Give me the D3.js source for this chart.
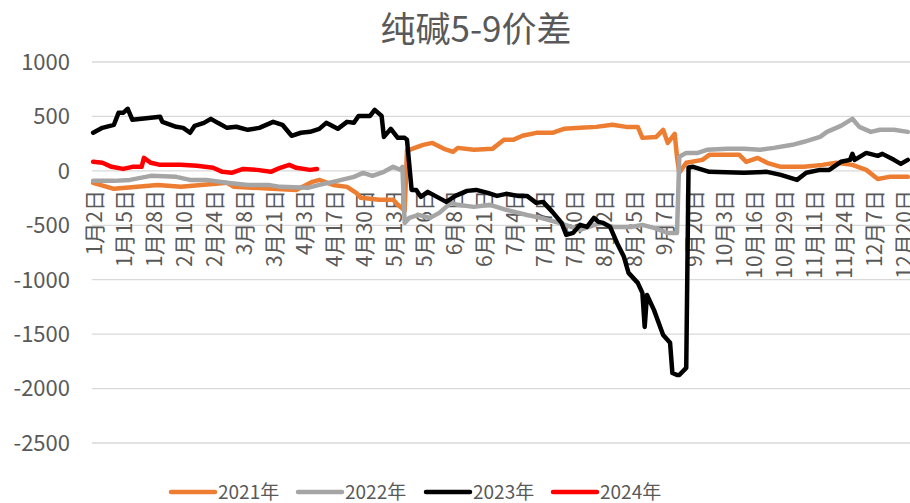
<!DOCTYPE html>
<html>
<head>
<meta charset="utf-8">
<script src="https://cdn.jsdelivr.net/npm/d3@7"></script>
<style>
  body { margin: 0; background: #fff; }
  text { font-family: "Noto Sans CJK SC", "Noto Sans", sans-serif; fill: #595959; }
</style>
</head>
<body>
<svg width="910" height="503"></svg>
<script>
// days that are not in the category list
var skipDays = ["1/1", "2/17", "4/5"];
var lastDay = "12/23";

var tickLabels = ["1月2日", "1月15日", "1月28日", "2月10日", "2月24日", "3月8日", "3月21日", "4月3日",
  "4月17日", "4月30日", "5月13日", "5月26日", "6月8日", "6月21日", "7月4日", "7月17日", "7月30日",
  "8月12日", "8月25日", "9月7日", "9月20日", "10月3日", "10月16日", "10月29日", "11月11日",
  "11月24日", "12月7日", "12月20日"];

var yTicks = [1000, 500, 0, -500, -1000, -1500, -2000, -2500];

var seriesNames = ["2021年", "2022年", "2023年", "2024年"];
var seriesColors = ["#ed7d31", "#a5a5a5", "#000000", "#ff0000"];

var s2021 = [["1/2",-110],["1/5",-129],["1/11",-165],["1/30",-129],["2/9",-147],["3/1",-110],["3/4",-147],
  ["3/31",-175],["4/8",-101],["4/11",-83],["4/17",-129],["4/23",-147],["4/27",-202],["4/29",-248],
  ["5/7",-266],["5/13",-266],["5/15",-312],["5/18",-365],["5/19",190],["5/20",193],["5/26",239],
  ["5/30",257],["6/4",202],["6/8",175],["6/10",211],["6/17",193],["6/25",202],["6/30",285],["7/4",285],
  ["7/8",322],["7/14",349],["7/21",349],["7/26",386],["8/2",395],["8/9",404],["8/16",423],["8/22",404],
  ["8/27",404],["8/29",303],["9/4",312],["9/7",377],["9/9",257],["9/12",340],["9/13",129],["9/14",-18],
  ["9/17",74],["9/24",101],["9/27",147],["10/10",147],["10/13",83],["10/18",119],["10/22",74],
  ["10/28",37],["11/7",37],["11/15",55],["11/21",74],["11/28",55],["12/4",9],["12/9",-74],
  ["12/14",-55],["12/22",-55]];

var s2022 = [["1/2",-92],["1/11",-92],["1/18",-83],["1/27",-46],["2/7",-55],["2/13",-83],["2/21",-83],
  ["3/1",-110],["3/10",-129],["3/19",-129],["3/24",-147],["4/6",-156],["4/11",-129],["4/17",-101],
  ["4/26",-55],["4/30",-18],["5/4",-46],["5/9",-9],["5/13",37],["5/16",10],["5/17",37],["5/18",-478],
  ["5/20",-432],["5/24",-405],["5/29",-432],["6/2",-386],["6/7",-294],["6/10",-312],["6/17",-331],
  ["6/24",-312],["7/1",-358],["7/10",-405],["7/16",-432],["7/24",-478],["8/2",-542],["8/11",-478],
  ["8/16",-515],["8/24",-515],["8/29",-496],["9/3",-524],["9/9",-570],["9/13",-570],["9/14",129],
  ["9/17",165],["9/22",165],["9/26",193],["10/5",202],["10/12",202],["10/19",193],["10/25",211],
  ["11/2",239],["11/7",267],["11/14",312],["11/17",358],["11/23",413],["11/28",478],["12/1",404],
  ["12/6",358],["12/10",377],["12/16",377],["12/22",358]];

var s2023 = [["1/2",350],["1/6",395],["1/11",423],["1/13",533],["1/15",533],["1/17",570],["1/19",469],
  ["1/31",497],["2/1",450],["2/7",405],["2/10",395],["2/13",350],["2/15",414],["2/20",441],["2/23",478],
  ["2/26",441],["3/1",395],["3/5",405],["3/10",377],["3/15",395],["3/21",450],["3/25",423],["3/29",322],
  ["4/2",350],["4/7",359],["4/11",386],["4/14",441],["4/19",386],["4/23",450],["4/26",441],["4/28",505],
  ["5/3",505],["5/5",560],["5/8",505],["5/9",312],["5/12",386],["5/15",303],["5/18",303],["5/19",285],
  ["5/21",-175],["5/23",-175],["5/25",-239],["5/28",-193],["6/1",-239],["6/5",-285],["6/9",-230],
  ["6/14",-184],["6/18",-175],["6/23",-202],["6/27",-230],["7/1",-211],["7/6",-230],["7/10",-230],
  ["7/14",-294],["7/17",-285],["7/21",-377],["7/25",-478],["7/27",-588],["7/30",-570],["8/2",-496],
  ["8/5",-515],["8/8",-432],["8/10",-469],["8/12",-478],["8/15",-515],["8/18",-662],["8/21",-790],
  ["8/23",-937],["8/27",-1029],["8/29",-1121],["8/30",-1434],["8/31",-1140],["9/3",-1277],["9/7",-1507],
  ["9/10",-1580],["9/11",-1857],["9/13",-1875],["9/14",-1875],["9/17",-1810],["9/18",30],["9/20",37],
  ["9/27",-9],["10/12",-18],["10/22",-9],["10/28",-37],["11/4",-83],["11/8",-18],["11/14",9],
  ["11/18",9],["11/23",83],["11/27",101],["11/28",156],["11/29",101],["12/4",165],["12/9",138],
  ["12/11",156],["12/16",101],["12/19",64],["12/22",101]];

var s2024 = [["1/2",83],["1/6",74],["1/10",37],["1/15",18],["1/19",37],["1/23",37],["1/24",119],
  ["1/27",74],["1/31",55],["2/9",55],["2/16",46],["2/24",28],["2/28",-9],["3/3",-18],["3/8",18],
  ["3/14",9],["3/20",-9],["3/24",28],["3/28",55],["3/31",28],["4/7",9],["4/10",18]];

var allSeries = [s2021, s2022, s2023, s2024];

// category list: calendar days of a leap year
var categories = [];
for (var d = new Date(2024, 0, 1); ; d.setDate(d.getDate() + 1)) {
  var key = (d.getMonth() + 1) + "/" + d.getDate();
  if (skipDays.indexOf(key) < 0) categories.push(key);
  if (key == lastDay) break;
}

var svg = d3.select("svg");

var step = 30 / 13;
var x = d3.scalePoint()
  .domain(categories)
  .range([92, 92 + categories.length * step])
  .padding(0.5);

var y = d3.scaleLinear()
  .domain([-2500, 1000])
  .range([443, 62]);

// title
svg.append("text")
  .attr("x", 476)
  .attr("y", 42)
  .attr("text-anchor", "middle")
  .attr("font-size", 35)
  .text("纯碱5-9价差");

// gridlines + y labels
var yAxis = svg.append("g");
yAxis.selectAll("line")
  .data(yTicks)
  .enter().append("line")
  .attr("x1", 92)
  .attr("x2", 910)
  .attr("y1", function(d) { return y(d); })
  .attr("y2", function(d) { return y(d); })
  .attr("stroke", "#d9d9d9")
  .attr("stroke-width", 1.3);

yAxis.selectAll("text")
  .data(yTicks)
  .enter().append("text")
  .attr("x", 70)
  .attr("y", function(d) { return y(d); })
  .attr("dy", "0.36em")
  .attr("text-anchor", "end")
  .attr("font-size", 22)
  .text(function(d) { return d; });

// x labels, every 13th category
function labelKey(t) { return t.replace("月", "/").replace("日", ""); }

svg.append("g")
  .selectAll("text")
  .data(tickLabels)
  .enter().append("text")
  .attr("transform", function(d) { return "translate(" + (x(labelKey(d)) + 1) + ",190)rotate(-90)"; })
  .attr("dy", "0.36em")
  .attr("text-anchor", "end")
  .attr("font-size", 21)
  .text(function(d) { return d; });

// lines
var line = d3.line()
  .x(function(d) { return x(d[0]); })
  .y(function(d) { return y(d[1]); });

svg.append("g")
  .selectAll("path")
  .data(allSeries)
  .enter().append("path")
  .attr("d", function(s) { return line(s.filter(function(d) { return x(d[0]) !== undefined; })); })
  .attr("fill", "none")
  .attr("stroke", function(d, i) { return seriesColors[i]; })
  .attr("stroke-width", 4.5)
  .attr("stroke-linejoin", "round")
  .attr("stroke-linecap", "round");

// legend
var legendX = [171, 298, 426, 553];
var legend = svg.append("g")
  .selectAll("g")
  .data(seriesNames)
  .enter().append("g")
  .attr("transform", function(d, i) { return "translate(" + legendX[i] + ",492)"; });

legend.append("line")
  .attr("x1", 0)
  .attr("x2", 44)
  .attr("stroke", function(d, i) { return seriesColors[i]; })
  .attr("stroke-width", 4.5)
  .attr("stroke-linecap", "round");

legend.append("text")
  .attr("x", 47)
  .attr("dy", "0.36em")
  .attr("font-size", 19)
  .text(function(d) { return d; });
</script>
</body>
</html>
